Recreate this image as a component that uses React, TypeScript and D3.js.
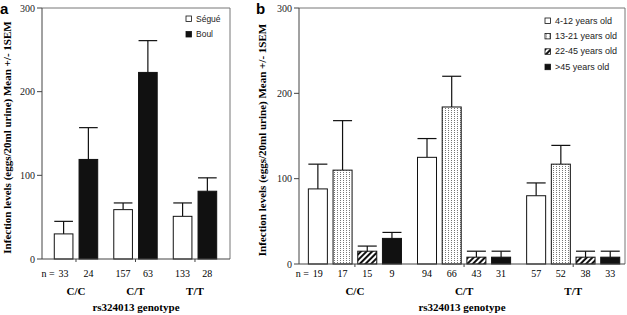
import React from "react";
import * as d3 from "d3";

const genotypes = ["C/C", "C/T", "T/T"];

// Panel a
const villages = ["Ségué", "Boul"];
const villageMeans = [
  [30, 59, 51],
  [119, 223, 81],
];
const villageSem = [
  [15, 8, 16],
  [38, 38, 16],
];
const villageN = [
  [33, 157, 133],
  [24, 63, 28],
];

// Panel b
const ageGroups = ["4-12 years old", "13-21 years old", "22-45 years old", " >45 years old"];
const ageMeans = [
  [88, 125, 80],
  [110, 184, 117],
  [15, 8, 8],
  [30, 8, 8],
];
const ageSem = [
  [29, 22, 15],
  [58, 36, 22],
  [6, 7, 7],
  [7, 7, 7],
];
const ageN = [
  [19, 94, 57],
  [17, 66, 52],
  [15, 43, 38],
  [9, 31, 33],
];

const yTicks = [0, 100, 200, 300];
const yLabel = "Infection levels (eggs/20ml urine) Mean +/- 1SEM";
const xTitle = "rs324013 genotype";

const serif = "'Liberation Serif', 'Times New Roman', serif";
const sans = "'Liberation Sans', Arial, sans-serif";

type PanelProps = {
  letter: string;
  letterX: number;
  left: number;
  right: number;
  top: number;
  bottom: number;
  series: string[];
  means: number[][];
  sem: number[][];
  ns: number[][];
  fills: string[];
  outerPad: number;
  innerPad: number;
  groupPad: number;
  align: number;
  labelX: number;
  legendX: number;
  legendY: number;
  legendStep: number;
  legendFont: number;
};

function Panel(p: PanelProps) {
  const y = d3.scaleLinear().domain([0, 300]).range([p.bottom, p.top]);
  const x0 = d3
    .scaleBand<string>()
    .domain(genotypes)
    .range([p.left, p.right])
    .paddingInner(p.groupPad)
    .paddingOuter(p.outerPad)
    .align(p.align);
  const x1 = d3
    .scaleBand<string>()
    .domain(p.series)
    .range([0, x0.bandwidth()])
    .paddingInner(p.innerPad);
  const bw = x1.bandwidth();
  const midY = (p.top + p.bottom) / 2 + 4;
  return (
    <g>
      <text x={p.letterX} y={14} fontFamily={sans} fontWeight="bold" fontSize={15}>
        {p.letter}
      </text>
      {/* frame */}
      <line x1={p.left} x2={p.right} y1={p.top} y2={p.top} stroke="#777" strokeWidth={1} />
      <line x1={p.right} x2={p.right} y1={p.top} y2={p.bottom} stroke="#777" strokeWidth={1} />
      {/* bars */}
      {p.series.map((s, si) =>
        genotypes.map((g, gi) => {
          const bx = (x0(g) as number) + (x1(s) as number);
          const v = p.means[si][gi];
          const e = v + p.sem[si][gi];
          return (
            <g key={s + g}>
              <line x1={bx + bw / 2} x2={bx + bw / 2} y1={y(v)} y2={y(e)} stroke="#111" strokeWidth={1.2} />
              <line x1={bx} x2={bx + bw} y1={y(e)} y2={y(e)} stroke="#111" strokeWidth={1.2} />
              <rect x={bx} y={y(v)} width={bw} height={y(0) - y(v)} fill={p.fills[si]} stroke="#111" strokeWidth={1} />
              <text x={bx + bw / 2} y={277} textAnchor="middle" fontFamily={serif} fontSize={10}>
                {p.ns[si][gi]}
              </text>
            </g>
          );
        })
      )}
      <text
        x={(x0(genotypes[0]) as number) + bw / 2 - 9}
        y={277}
        textAnchor="end"
        fontFamily={serif}
        fontSize={10}
      >
        n =
      </text>
      {/* axes */}
      <line x1={p.left} x2={p.left} y1={p.top} y2={p.bottom} stroke="#444" strokeWidth={1} />
      <line x1={p.left} x2={p.right} y1={p.bottom} y2={p.bottom} stroke="#444" strokeWidth={1} />
      {yTicks.map((t) => (
        <g key={t}>
          <line x1={p.left - 5} x2={p.left} y1={y(t)} y2={y(t)} stroke="#444" />
          <text x={p.left - 7} y={y(t) + 3.5} textAnchor="end" fontFamily={serif} fontSize={10} fill="#222">
            {t}
          </text>
        </g>
      ))}
      {genotypes.map((g) => {
        const cx = (x0(g) as number) + x0.bandwidth() / 2;
        return (
          <g key={g}>
            <line x1={cx} x2={cx} y1={p.bottom} y2={p.bottom + 3} stroke="#444" />
            <text x={cx} y={295} textAnchor="middle" fontFamily={serif} fontWeight="bold" fontSize={11}>
              {g}
            </text>
          </g>
        );
      })}
      <text
        x={(p.left + p.right) / 2}
        y={311}
        textAnchor="middle"
        fontFamily={serif}
        fontWeight="bold"
        fontSize={11}
      >
        {xTitle}
      </text>
      <text
        transform={`translate(${p.labelX},${midY}) rotate(-90)`}
        textAnchor="middle"
        fontFamily={serif}
        fontWeight="bold"
        fontSize={11}
      >
        {yLabel}
      </text>
      {/* legend */}
      {p.series.map((s, si) => (
        <g key={s} transform={`translate(${p.legendX},${p.legendY + si * p.legendStep})`}>
          <rect x={0} y={-5} width={5.5} height={5.5} fill={p.fills[si]} stroke="#111" strokeWidth={0.8} />
          <text x={10} y={0.5} fontFamily={sans} fontSize={p.legendFont} fill="#222">
            {s}
          </text>
        </g>
      ))}
    </g>
  );
}

export default function App() {
  return (
    <svg width={627} height={315} style={{ display: "block", position: "absolute", left: 0, top: 0 }}>
      <defs>
        <pattern id="dots" width={3} height={2} patternUnits="userSpaceOnUse">
          <rect width={3} height={2} fill="#fff" />
          <rect x={1} y={0} width={1} height={1} fill="#777" />
        </pattern>
        <pattern id="hatch" width={4} height={4} patternUnits="userSpaceOnUse" patternTransform="rotate(45)">
          <rect width={4} height={4} fill="#fff" />
          <rect width={2} height={4} fill="#111" />
        </pattern>
      </defs>
      <rect width={627} height={315} fill="#fff" />
      <Panel
        letter="a"
        letterX={0}
        left={42}
        right={230}
        top={8}
        bottom={259}
        series={villages}
        means={villageMeans}
        sem={villageSem}
        ns={villageN}
        fills={["#fff", "#111"]}
        outerPad={0.215}
        innerPad={0.247}
        groupPad={0.27}
        align={0.48}
        labelX={11}
        legendX={186}
        legendY={21}
        legendStep={15.5}
        legendFont={8.5}
      />
      <Panel
        letter="b"
        letterX={256}
        left={299}
        right={625}
        top={8}
        bottom={264}
        series={ageGroups}
        means={ageMeans}
        sem={ageSem}
        ns={ageN}
        fills={["#fff", "url(#dots)", "url(#hatch)", "#111"]}
        outerPad={0.067}
        innerPad={0.23}
        groupPad={0.147}
        align={0.64}
        labelX={266}
        legendX={545}
        legendY={23}
        legendStep={15.4}
        legendFont={9}
      />
    </svg>
  );
}
